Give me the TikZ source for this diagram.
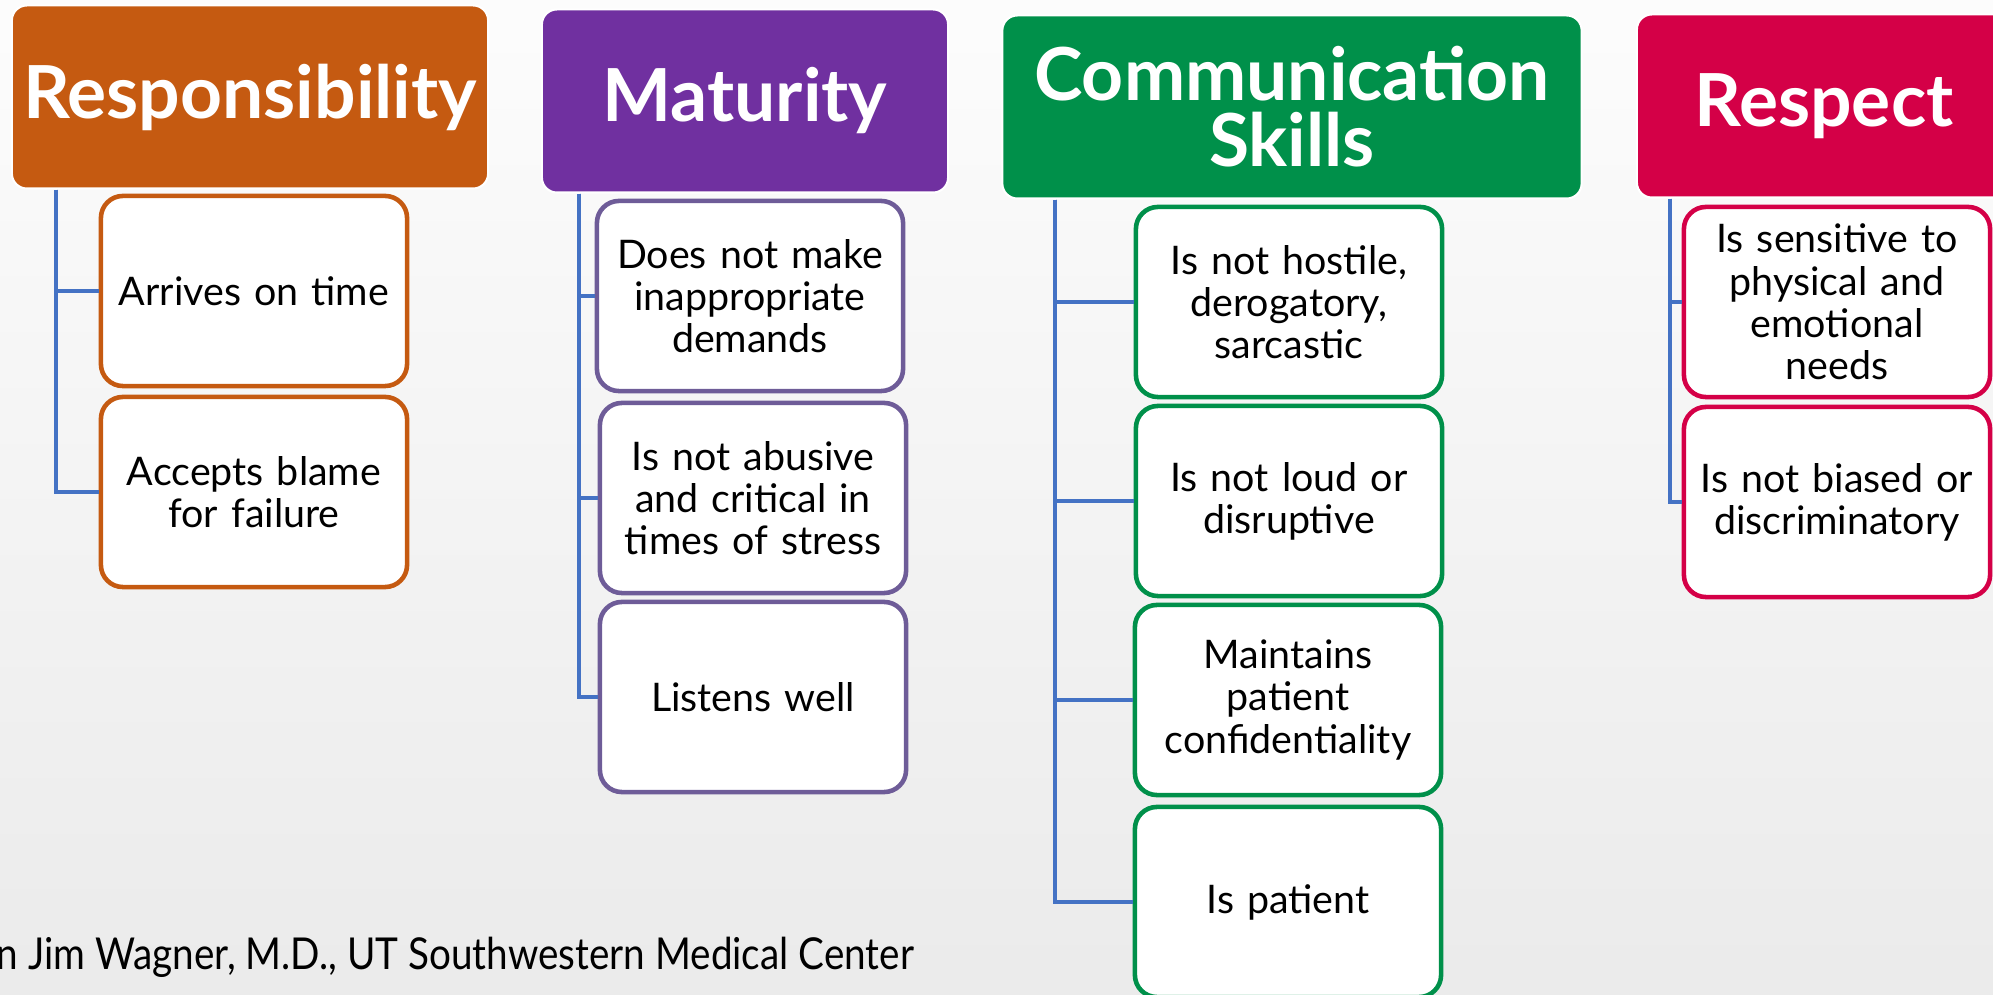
\documentclass[tikz,border=0pt]{standalone}
\usepackage{fontspec}
\setmainfont{Lato}
\usepackage{tikz}
\usetikzlibrary{positioning}

\definecolor{respcol}{HTML}{C55A11}
\definecolor{matcol}{HTML}{7030A0}
\definecolor{matline}{HTML}{6E5C98}
\definecolor{comcol}{HTML}{00904A}
\definecolor{rescol}{HTML}{D40047}
\definecolor{linkblue}{HTML}{4472C4}

\begin{document}
\begin{tikzpicture}[x=0.01cm, y=-0.01cm,
    head/.style={rounded corners=0.15cm, fill=#1, draw=white, line width=0.6pt,
      text=white, align=center, inner sep=0pt, minimum height=1.83cm,
      font=\fontsize{20.8}{18.8}\selectfont\bfseries},
    item/.style={rounded corners=0.22cm, draw=#1, fill=white, line width=1.3pt,
      align=center, text width=2.9cm, minimum width=3.06cm, minimum height=1.9cm,
      inner sep=0pt, font=\fontsize{11.2}{12}\selectfont},
    link/.style={draw=linkblue, line width=1.2pt}]
    \useasboundingbox (0,0) rectangle (1993,995);
    \clip (0,0) rectangle (1993,995);
    % Backdrop
    \shade[top color=gray!2, bottom color=gray!16] (0,0) rectangle (1993,995);

    % Responsibility
    \node[head=respcol, minimum width=4.76cm] (hdResp) at (250,97) {Responsibility};
    \node[item=respcol] (rs1) at (254,291) {Arrives on time};
    \node[item=respcol] (rs2) at (254,492) {Accepts blame\\for failure};
    \foreach \n in {rs1,rs2}
        \draw[link] (hdResp.south west) ++(45,0) |- (\n.west);

    % Maturity
    \node[head=matcol, minimum width=4.06cm] (hdMat) at (745,101) {Maturity};
    \node[item=matline] (ma1) at (750,296) {Does not make\\inappropriate\\demands};
    \node[item=matline] (ma2) at (753,498) {Is not abusive\\and critical in\\times of stress};
    \node[item=matline] (ma3) at (753,697) {Listens well};
    \foreach \n in {ma1,ma2,ma3}
        \draw[link] (hdMat.south west) ++(38,0) |- (\n.west);

    % Communication skills
    \node[head=comcol, minimum width=5.79cm] (hdCom) at (1292,107) {Communication\\Skills};
    \node[item=comcol] (co1) at (1289,302) {Is not hostile,\\derogatory,\\sarcastic};
    \node[item=comcol] (co2) at (1289,501) {Is not loud or\\disruptive};
    \node[item=comcol] (co3) at (1288,700) {Maintains\\patient\\confidentiality};
    \node[item=comcol] (co4) at (1288,902) {Is patient};
    \foreach \n in {co1,co2,co3,co4}
        \draw[link] (hdCom.south west) ++(54,0) |- (\n.west);

    % Respect
    \node[head=rescol, minimum width=3.74cm] (hdRes) at (1824,106) {Respect};
    \node[item=rescol] (re1) at (1837,302) {Is sensitive to\\physical and\\emotional\\needs};
    \node[item=rescol] (re2) at (1837,502) {Is not biased or\\discriminatory};
    \foreach \n in {re1,re2}
        \draw[link] (hdRes.south west) ++(34,0) |- (\n.west);

    % Credit line
    \node[anchor=base west, inner sep=0pt, font=\fontsize{12.5}{14}\selectfont] (credit) at (-4,970)
        {\scalebox{0.88}[1]{n Jim Wagner, M.D., UT Southwestern Medical Center}};
\end{tikzpicture}
\end{document}
